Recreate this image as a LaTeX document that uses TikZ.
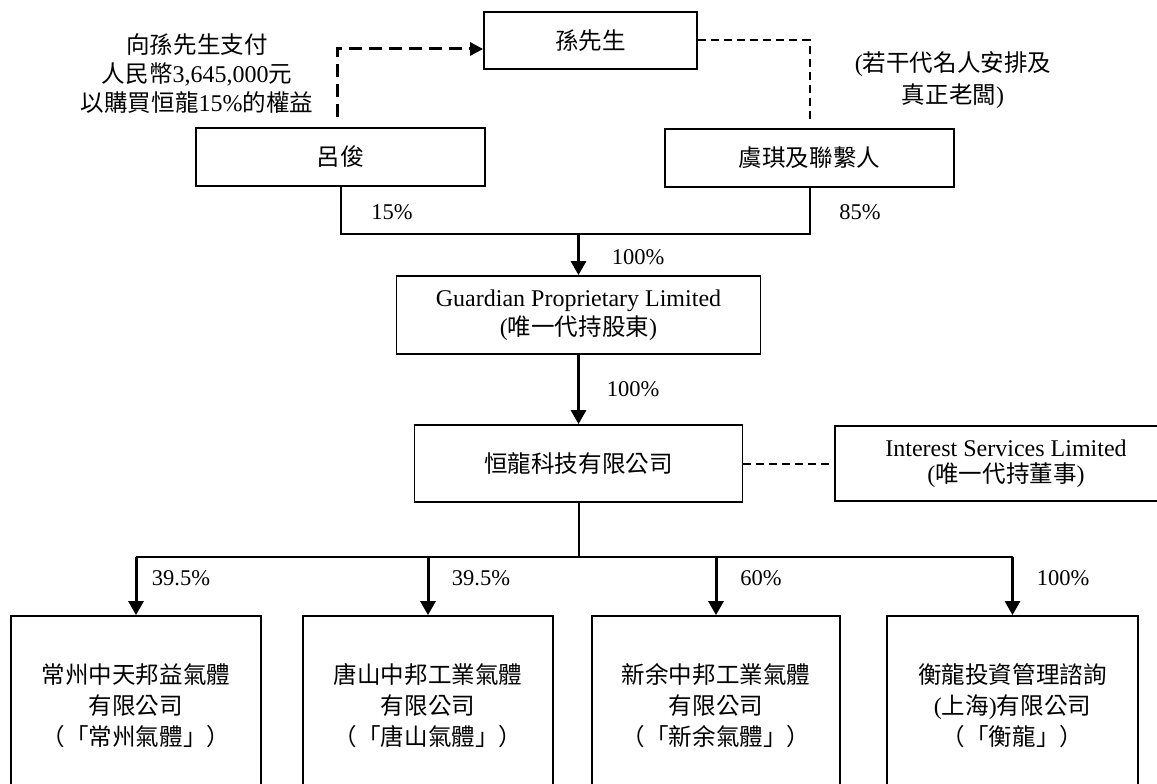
\documentclass[tikz,border=0pt]{standalone}
\usepackage{fontspec}
\setmainfont{Liberation Serif}
\newfontfamily\tc[Scale=0.98]{Noto Sans CJK TC}
\newcommand{\zh}[1]{{\tc #1}}
\usetikzlibrary{arrows.meta}

\begin{document}
\begin{tikzpicture}[x=1pt,y=-1pt,
	every node/.style={font=\fontsize{24}{29}\selectfont, align=center},
	firm/.style={draw, line width=1.8pt, inner sep=0pt},
	link/.style={line width=2pt},
	own/.style={line width=3pt, -{Triangle[length=14pt,width=15pt]}},
	paydash/.style={line width=3pt, dash pattern=on 13pt off 7pt, -{Triangle[length=13pt,width=13pt]}},
	nomdash/.style={line width=2pt, dash pattern=on 8pt off 5pt},
	pct/.style={font=\fontsize{22.5}{24}\selectfont}]
	\useasboundingbox (0,0) rectangle (1157,784);
	\clip (0,0) rectangle (1157,784);
	% owners
	\node[firm, minimum width=213, minimum height=57] (Sun) at (590.5,40.5){\zh{孫先生}};
	\node[firm, minimum width=289, minimum height=58] (Lu) at (340.5,157){\zh{呂俊}};
	\node[firm, minimum width=289, minimum height=58] (Yu) at (809.5,158){\zh{虞琪及聯繫人}};
	\node (pay) at (197,74){\zh{向孫先生支付}\\\zh{人民幣}3,645,000\zh{元}\\\zh{以購買恒龍}15\%\zh{的權益}};
	\node[font=\fontsize{24}{32}\selectfont] (nom) at (953,80){(\zh{若干代名人安排及}\\\zh{真正老闆})};
	% holding chain
	\node[firm, minimum width=364, minimum height=78] (GP) at (578.5,315){Guardian Proprietary Limited\\(\zh{唯一代持股東})};
	\node[firm, minimum width=328, minimum height=77] (HL) at (578.5,463.5){\zh{恒龍科技有限公司}};
	\node[firm, minimum width=342, minimum height=75, font=\fontsize{24}{26}\selectfont] (IS) at (1006,463.5){Interest Services Limited\\(\zh{唯一代持董事})};
	% subsidiaries
	\node[firm, minimum width=250, minimum height=180, font=\fontsize{24}{31}\selectfont] (C1) at (136,706){\zh{常州中天邦益氣體}\\\zh{有限公司}\\\zh{（「常州氣體」）}};
	\node[firm, minimum width=250, minimum height=180, font=\fontsize{24}{31}\selectfont] (C2) at (428,706){\zh{唐山中邦工業氣體}\\\zh{有限公司}\\\zh{（「唐山氣體」）}};
	\node[firm, minimum width=248, minimum height=180, font=\fontsize{24}{31}\selectfont] (C3) at (716,706){\zh{新余中邦工業氣體}\\\zh{有限公司}\\\zh{（「新余氣體」）}};
	\node[firm, minimum width=251, minimum height=180, font=\fontsize{24}{31}\selectfont] (C4) at (1012.5,706){\zh{衡龍投資管理諮詢}\\(\zh{上海})\zh{有限公司}\\\zh{（「衡龍」）}};
	% percentages
	\node[pct] (p15) at (392,212){15\%};
	\node[pct] (p85) at (860,212){85\%};
	\node[pct] (pGP) at (638,257){100\%};
	\node[pct] (pHL) at (633,389){100\%};
	\node[pct] (p1) at (181,578){39.5\%};
	\node[pct] (p2) at (481,578){39.5\%};
	\node[pct] (p3) at (761,578){60\%};
	\node[pct] (p4) at (1063,578){100\%};
	\coordinate (payfoot) at (337,117);
	\coordinate (join) at (578.5,234);
	\coordinate (split) at (578.5,557);
	\draw[paydash] (payfoot) |- ([yshift=-8.5pt]Sun.west);
	\draw[nomdash] (Sun.east) -| ([yshift=6pt]Yu.north);
	\draw[link] (Lu.south) |- (join) -| (Yu.south);
	\draw 	(join) edge[own] (GP.north)
	(GP.south) edge[own] (HL.north)
	(HL.east) edge[nomdash] (IS.west)
	(HL.south) edge[link] (split)
	(C1.north |- split) edge[link] (C4.north |- split);
	\foreach \c in {C1,C2,C3,C4}
		\draw[own] (\c.north |- split) -- (\c.north);
\end{tikzpicture}
\end{document}
